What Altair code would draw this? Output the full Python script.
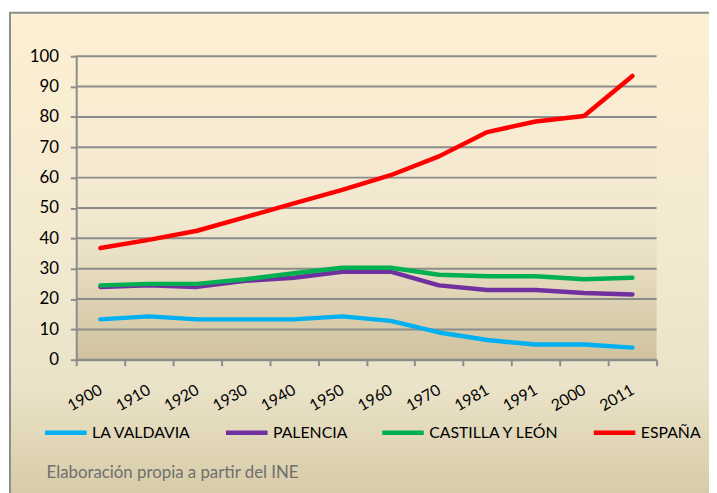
import altair as alt
import pandas as pd

years = ["1900", "1910", "1920", "1930", "1940", "1950", "1960", "1970", "1981", "1991", "2000", "2011"]
series_names = ["LA VALDAVIA", "PALENCIA", "CASTILLA Y LEÓN", "ESPAÑA"]
series_colors = ["#00B0F0", "#7030A0", "#00B050", "#FF0000"]

la_valdavia = [13.3, 14.3, 13.3, 13.3, 13.3, 14.3, 12.8, 9.0, 6.5, 5.0, 5.0, 4.0]
palencia = [24.0, 24.5, 24.0, 26.0, 27.0, 29.0, 29.0, 24.5, 23.0, 23.0, 22.0, 21.5]
castilla_y_leon = [24.5, 25.0, 25.0, 26.5, 28.5, 30.3, 30.3, 28.0, 27.5, 27.5, 26.5, 27.0]
espana = [36.8, 39.5, 42.5, 47.0, 51.5, 56.0, 60.8, 67.0, 75.0, 78.5, 80.3, 93.5]

y_ticks = [0, 10, 20, 30, 40, 50, 60, 70, 80, 90, 100]
source_text = ["Elaboración propia a partir del INE"]

rows = []
for name, vals in zip(series_names, [la_valdavia, palencia, castilla_y_leon, espana]):
    for yr, v in zip(years, vals):
        rows.append({"year": yr, "value": v, "serie": name})
df = pd.DataFrame(rows)

W, H = 587, 307
FONT = "Lato"
GRID = "#8C8C8C"

one = pd.DataFrame({"k": [0]})

outer_bg = alt.Chart(one).mark_rect(
    color=alt.LinearGradient(
        gradient="linear", x1=0, y1=0, x2=0, y2=1,
        stops=[alt.GradientStop(color="#FDEFD3", offset=0),
               alt.GradientStop(color="#F3EAD0", offset=0.45),
               alt.GradientStop(color="#EBE3C9", offset=0.75),
               alt.GradientStop(color="#D5C8A3", offset=1)]),
    stroke=GRID, strokeWidth=2,
).encode(x=alt.value(-67), x2=alt.value(W + 80), y=alt.value(-44), y2=alt.value(H + 150))

plot_bg = alt.Chart(one).mark_rect(
    color=alt.LinearGradient(
        gradient="linear", x1=0, y1=0, x2=0, y2=1,
        stops=[alt.GradientStop(color="#FCEED2", offset=0),
               alt.GradientStop(color="#F1E8D0", offset=0.55),
               alt.GradientStop(color="#D0C29E", offset=1)]),
).encode(x=alt.value(0), x2=alt.value(W), y=alt.value(0), y2=alt.value(H))

y_scale = alt.Scale(domain=[0, 100], nice=False)
y_axis = alt.Axis(
    title=None, values=y_ticks, grid=False, tickSize=6, tickWidth=2,
    tickColor=GRID, domainColor=GRID, domainWidth=2, labelPadding=12,
    labelFont=FONT, labelFontSize=17, labelColor="#000000", zindex=1,
    labelOverlap=False,
)

grid = alt.Chart(pd.DataFrame({"value": y_ticks})).mark_rule(
    color=GRID, strokeWidth=2
).encode(
    y=alt.Y("value:Q", scale=y_scale, axis=y_axis),
    x=alt.value(0), x2=alt.value(W),
)

x_enc = alt.X(
    "year:O",
    sort=years,
    bandPosition=0.5,
    scale=alt.Scale(type="band", domain=years, paddingInner=0, paddingOuter=0),
    axis=alt.Axis(
        title=None, tickBand="extent", labelAngle=-30, labelAlign="right",
        labelBaseline="middle", labelPadding=23, labelOffset=0, tickSize=6,
        tickWidth=2, tickColor=GRID, domainColor=GRID, domainWidth=2,
        grid=False, labelFont=FONT, labelFontSize=16, labelColor="#000000",
        zindex=1, labelOverlap=False,
    ),
)

lines = alt.Chart(df).mark_line(
    strokeWidth=4.5, strokeCap="round", strokeJoin="round"
).encode(
    x=x_enc,
    y=alt.Y("value:Q", scale=y_scale, axis=y_axis),
    color=alt.Color(
        "serie:N",
        sort=series_names,
        scale=alt.Scale(domain=series_names, range=series_colors),
        legend=alt.Legend(
            title=None, orient="none", legendX=-34, legendY=357,
            direction="horizontal", columns=4, symbolType="stroke",
            symbolSize=1764, symbolStrokeWidth=4.5, labelFont=FONT,
            labelFontSize=16, labelColor="#000000", labelOffset=3,
            columnPadding=25, padding=0,
        ),
    ),
    order=alt.Order("serie:N"),
)

src = alt.Chart(pd.DataFrame({"t": source_text})).mark_text(
    align="left", baseline="alphabetic", font=FONT, fontSize=17, color="#6F6F6F"
).encode(text="t:N", x=alt.value(-30), y=alt.value(427))

chart = alt.layer(outer_bg, plot_bg, grid, lines, src).properties(
    width=W, height=H,
    autosize=alt.AutoSizeParams(type="none"),
    padding={"left": 69, "top": 46, "right": 53, "bottom": 132},
).configure_view(stroke=None)

chart.save("out.html", embed_options={"renderer": "svg", "actions": False})
